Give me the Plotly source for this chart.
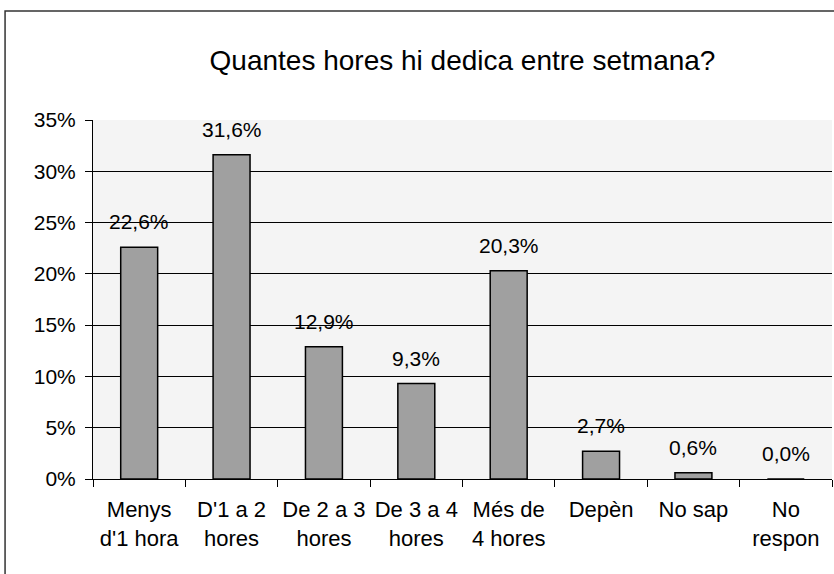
import plotly.graph_objects as go

categories = ["Menys<br>d'1 hora", "D'1 a 2<br>hores", "De 2 a 3<br>hores", "De 3 a 4<br>hores",
              "Més de<br>4 hores", "Depèn", "No sap", "No<br>respon"]
values = [22.6, 31.6, 12.9, 9.3, 20.3, 2.7, 0.6, 0.0]
labels = [f"{v:.1f}".replace(".", ",") + "%" for v in values]
y_ticks = [0, 5, 10, 15, 20, 25, 30, 35]
y_tick_text = [f"{t}%" for t in y_ticks]

FONT = "Liberation Sans, Arial, sans-serif"

fig = go.Figure()
fig.add_trace(go.Bar(
    x=categories, y=values,
    marker=dict(color="#a0a0a0", line=dict(color="#000000", width=1.5)),
    width=0.4,
    hoverinfo="skip",
))

for c, v, t in zip(categories, values, labels):
    fig.add_annotation(x=c, y=v, text=t, showarrow=False, yanchor="bottom",
                       yshift=12, font=dict(family=FONT, size=21, color="#000000"))

fig.add_shape(type="rect", xref="paper", yref="paper",
              x0=-0.119, y0=-0.4, x1=1.05, y1=1.3036,
              line=dict(color="#333333", width=1.5), fillcolor="rgba(0,0,0,0)", layer="below")

fig.update_layout(
    width=834, height=574,
    margin=dict(l=93, r=2, t=120, b=95, autoexpand=False),
    paper_bgcolor="#ffffff",
    plot_bgcolor="#f4f4f4",
    showlegend=False,
    title=dict(text="Quantes hores hi dedica entre setmana?", x=0.5, xref="paper",
               y=1 - 60 / 574, yref="container", xanchor="center", yanchor="middle",
               font=dict(family=FONT, size=28, color="#000000")),
    font=dict(family=FONT, size=21, color="#000000"),
)
fig.update_xaxes(
    type="category", tickson="boundaries", ticks="outside", ticklen=7, tickwidth=1,
    tickcolor="#000000", showline=True, linecolor="#000000", linewidth=1,
    showgrid=False, automargin=False, ticklabelstandoff=11,
    tickfont=dict(family=FONT, size=22, color="#000000"),
)
fig.update_yaxes(
    range=[0, 35], tickvals=y_ticks, ticktext=y_tick_text, ticks="outside", ticklen=7,
    tickcolor="#000000", showline=True, linecolor="#000000", linewidth=1,
    showgrid=True, gridcolor="#000000", gridwidth=1, zeroline=False, automargin=False,
    ticklabelstandoff=5,
    tickfont=dict(family=FONT, size=21, color="#000000"),
)

fig.write_html("out.html", config={"displayModeBar": False},
               post_script="document.body.style.margin='0';")
